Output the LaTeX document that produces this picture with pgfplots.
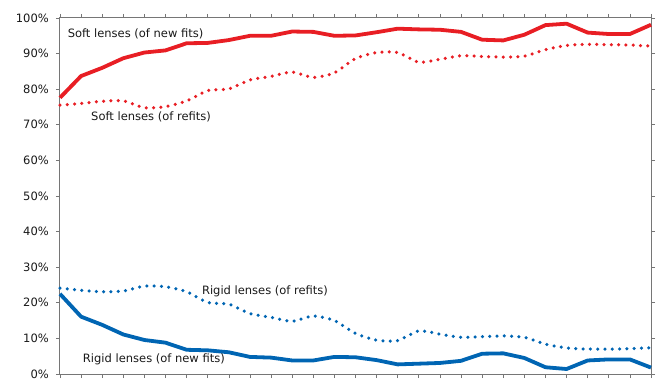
\documentclass[border=0pt]{standalone}
\usepackage{fontspec}
\setmainfont{DejaVu Sans}
\usepackage{pgfplots}
\pgfplotsset{compat=1.18}
\definecolor{cred}{RGB}{232,30,36}
\definecolor{cblue}{RGB}{0,101,179}
\definecolor{axgray}{RGB}{118,118,118}
\begin{document}
\begin{tikzpicture}
\begin{axis}[
  scale only axis, width=591bp, height=356bp,
  xmin=0, xmax=28, ymin=0, ymax=100,
  xtick={0,...,28}, xticklabels={},
  ytick={0,10,...,100},
  yticklabel={\pgfmathprintnumber{\tick}\%},
  /pgf/number format/assume math mode=true,
  tick align=outside, major tick length=4bp,
  tick style={axgray, line width=0.7bp},
  axis line style={axgray, line width=1bp},
  yticklabel style={font=\fontsize{11.5bp}{13bp}\selectfont, inner sep=0pt, xshift=-7bp, text=black!90},
  clip=false,
]
\addplot[cred, line width=3.8bp, line join=round] coordinates {
(0,77.6)(1,83.7)(2,86.0)(3,88.7)(4,90.3)(5,90.9)(6,92.9)(7,93.0)(8,93.8)(9,95.0)
(10,95.0)(11,96.2)(12,96.1)(13,95.0)(14,95.1)(15,96.0)(16,97.0)(17,96.8)(18,96.7)(19,96.1)
(20,93.9)(21,93.7)(22,95.3)(23,98.0)(24,98.4)(25,95.9)(26,95.5)(27,95.5)(28,98.1)};
\addplot[cred, line width=3.5bp, line cap=round, dash pattern=on 0bp off 7.3bp, smooth, tension=0.4] coordinates {
(0,75.5)(1,76.0)(2,76.6)(3,76.7)(4,74.8)(5,75.1)(6,76.7)(7,79.6)(8,80.1)(9,82.6)
(10,83.6)(11,84.8)(12,83.3)(13,84.6)(14,88.6)(15,90.3)(16,90.3)(17,87.6)(18,88.4)(19,89.4)
(20,89.2)(21,89.0)(22,89.3)(23,91.1)(24,92.3)(25,92.6)(26,92.5)(27,92.4)(28,92.1)};
\addplot[cblue, line width=3.8bp, line join=round] coordinates {
(0,22.5)(1,16.1)(2,13.8)(3,11.1)(4,9.55)(5,8.8)(6,6.8)(7,6.65)(8,6.1)(9,4.8)
(10,4.6)(11,3.8)(12,3.8)(13,4.8)(14,4.7)(15,3.9)(16,2.7)(17,2.9)(18,3.1)(19,3.7)
(20,5.7)(21,5.8)(22,4.5)(23,1.9)(24,1.4)(25,3.8)(26,4.1)(27,4.1)(28,1.8)};
\addplot[cblue, line width=3.5bp, line cap=round, dash pattern=on 0bp off 7.3bp, smooth, tension=0.4] coordinates {
(0,24.1)(1,23.5)(2,23.1)(3,23.3)(4,24.7)(5,24.5)(6,23.1)(7,20.1)(8,19.6)(9,17.0)
(10,15.9)(11,14.8)(12,16.3)(13,15.0)(14,11.4)(15,9.5)(16,9.4)(17,12.1)(18,11.2)(19,10.3)
(20,10.5)(21,10.7)(22,10.3)(23,8.4)(24,7.3)(25,7.0)(26,7.0)(27,7.1)(28,7.4)};
\node[anchor=west, inner sep=0pt, font=\fontsize{11.5bp}{13bp}\selectfont, text=black!90] at (axis cs:0.36,95.5) {Soft lenses (of new fits)};
\node[anchor=west, inner sep=0pt, font=\fontsize{11.5bp}{13bp}\selectfont, text=black!90] at (axis cs:1.47,72.2) {Soft lenses (of refits)};
\node[anchor=west, inner sep=0pt, font=\fontsize{11.5bp}{13bp}\selectfont, text=black!90] at (axis cs:6.72,23.3) {Rigid lenses (of refits)};
\node[anchor=west, inner sep=0pt, font=\fontsize{11.5bp}{13bp}\selectfont, text=black!90] at (axis cs:1.08,4.1) {Rigid lenses (of new fits)};
\end{axis}
\pgfresetboundingbox
\path[use as bounding box] ([xshift=-60bp,yshift=-18bp]current axis.south west) rectangle ([xshift=16bp,yshift=18bp]current axis.north east);
\end{tikzpicture}
\end{document}
